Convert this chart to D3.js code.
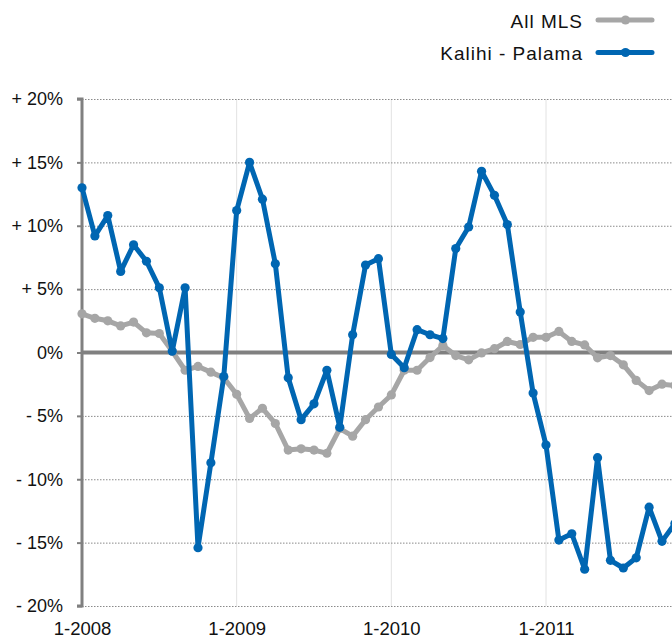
<!DOCTYPE html>
<html>
<head>
<meta charset="utf-8">
<script src="https://cdn.jsdelivr.net/npm/d3@7"></script>
<style>
  html, body { margin: 0; padding: 0; background: #fff; }
  svg { display: block; font-family: "Liberation Sans", Arial, Helvetica, sans-serif; }
</style>
</head>
<body>
<svg id="chart" width="672" height="637"></svg>
<script>
// ---- data ----
const months = [
  "1-2008","2-2008","3-2008","4-2008","5-2008","6-2008","7-2008","8-2008","9-2008","10-2008","11-2008","12-2008",
  "1-2009","2-2009","3-2009","4-2009","5-2009","6-2009","7-2009","8-2009","9-2009","10-2009","11-2009","12-2009",
  "1-2010","2-2010","3-2010","4-2010","5-2010","6-2010","7-2010","8-2010","9-2010","10-2010","11-2010","12-2010",
  "1-2011","2-2011","3-2011","4-2011","5-2011","6-2011","7-2011","8-2011","9-2011","10-2011","11-2011"
];
const allMLS = [
  3.05, 2.7, 2.5, 2.1, 2.4, 1.55, 1.5, 0.1, -1.4, -1.1, -1.55, -2.0,
  -3.3, -5.2, -4.4, -5.6, -7.7, -7.6, -7.7, -7.95, -6.0, -6.6, -5.3, -4.3,
  -3.35, -1.4, -1.4, -0.4, 0.55, -0.24, -0.58, -0.03, 0.3, 0.87, 0.63, 1.2,
  1.2, 1.66, 0.87, 0.6, -0.42, -0.24, -0.97, -2.2, -3.0, -2.5, -2.6
];
const kalihiPalama = [
  13.0, 9.2, 10.8, 6.4, 8.5, 7.2, 5.1, 0.1, 5.1, -15.4, -8.7, -1.9,
  11.2, 15.0, 12.1, 7.0, -2.0, -5.3, -4.05, -1.4, -5.9, 1.4, 6.9, 7.4,
  -0.15, -1.2, 1.8, 1.4, 1.1, 8.2, 9.9, 14.3, 12.4, 10.1, 3.2, -3.2,
  -7.3, -14.8, -14.3, -17.1, -8.3, -16.4, -17.0, -16.2, -12.2, -14.9, -13.5
];
const yTicks = [20, 15, 10, 5, 0, -5, -10, -15, -20];
const yTickLabels = ["+ 20%", "+ 15%", "+ 10%", "+ 5%", "0%", "- 5%", "- 10%", "- 15%", "- 20%"];
const xTickLabels = ["1-2008", "1-2009", "1-2010", "1-2011"];
const seriesNames = ["All MLS", "Kalihi - Palama"];

// ---- layout ----
const W = 672, H = 637;
const svg = d3.select("#chart");
const x = d3.scaleLinear().domain([0, 36]).range([82, 546]);
const y = d3.scaleLinear().domain([-20, 20]).range([606, 99]);
const grey = "#a6a6a6", blue = "#0066b2", axisGrey = "#808080";

// vertical year gridlines
const xTickIdx = xTickLabels.map(l => months.indexOf(l));
svg.append("g").selectAll("line").data(xTickIdx.slice(1)).join("line")
  .attr("x1", d => x(d)).attr("x2", d => x(d))
  .attr("y1", y(20)).attr("y2", y(-20))
  .attr("stroke", "#e2e2e2").attr("stroke-width", 1);

// horizontal dotted gridlines
svg.append("g").selectAll("line").data(yTicks.filter(d => d !== 0)).join("line")
  .attr("x1", x(0)).attr("x2", W)
  .attr("y1", d => y(d) + 0.5).attr("y2", d => y(d) + 0.5)
  .attr("stroke", "#8a8a8a").attr("stroke-width", 1)
  .attr("stroke-dasharray", "1.5,1.5");

// y axis
const yAxis = d3.axisLeft(y).tickValues(yTicks)
  .tickFormat((d, i) => yTickLabels[i]).tickSize(5).tickPadding(14);
const ya = svg.append("g").attr("transform", `translate(${x(0)},0)`).call(yAxis);
ya.select(".domain").attr("stroke", axisGrey).attr("stroke-width", 3);
ya.selectAll(".tick line").attr("stroke", axisGrey).attr("stroke-width", 2);
ya.selectAll(".tick text").attr("font-size", 18).attr("fill", "#111")
  .attr("font-family", "'Liberation Sans', Arial, sans-serif");
ya.select(".domain").attr("d", `M-5,${y(20)}H0V${y(-20)}H-5`);

// zero line
svg.append("line")
  .attr("x1", x(0)).attr("x2", W)
  .attr("y1", y(0)).attr("y2", y(0))
  .attr("stroke", axisGrey).attr("stroke-width", 4);

// x axis labels
const xAxis = d3.axisBottom(x).tickValues(xTickIdx)
  .tickFormat((d, i) => xTickLabels[i]).tickSize(0).tickPadding(0);
const xa = svg.append("g").attr("transform", `translate(0,${y(-20)})`).call(xAxis);
xa.select(".domain").remove();
xa.selectAll(".tick text").attr("font-size", 18.5).attr("fill", "#111")
  .attr("dy", null).attr("y", 28.5)
  .attr("font-family", "'Liberation Sans', Arial, sans-serif");

// series
const line = d3.line().x((d, i) => x(i)).y(d => y(d));
function drawSeries(data, color) {
  const g = svg.append("g");
  g.append("path").datum(data).attr("d", line)
    .attr("fill", "none").attr("stroke", color).attr("stroke-width", 5)
    .attr("stroke-linejoin", "round").attr("stroke-linecap", "round");
  g.selectAll("circle").data(data).join("circle")
    .attr("cx", (d, i) => x(i)).attr("cy", d => y(d)).attr("r", 4.6)
    .attr("fill", color);
}
drawSeries(allMLS, grey);
drawSeries(kalihiPalama, blue);

// legend
const legend = svg.append("g");
const legendColors = [grey, blue];
const legendY = [20, 52.5];
seriesNames.forEach((name, i) => {
  legend.append("text").attr("x", 583).attr("y", legendY[i] + 7.5)
    .attr("text-anchor", "end").attr("font-size", 19).attr("letter-spacing", 1)
    .attr("fill", "#111").text(name);
  legend.append("line").attr("x1", 598).attr("x2", 652)
    .attr("y1", legendY[i]).attr("y2", legendY[i])
    .attr("stroke", legendColors[i]).attr("stroke-width", 5).attr("stroke-linecap", "round");
  legend.append("circle").attr("cx", 625.5).attr("cy", legendY[i]).attr("r", 4.6)
    .attr("fill", legendColors[i]);
});
</script>
</body>
</html>
